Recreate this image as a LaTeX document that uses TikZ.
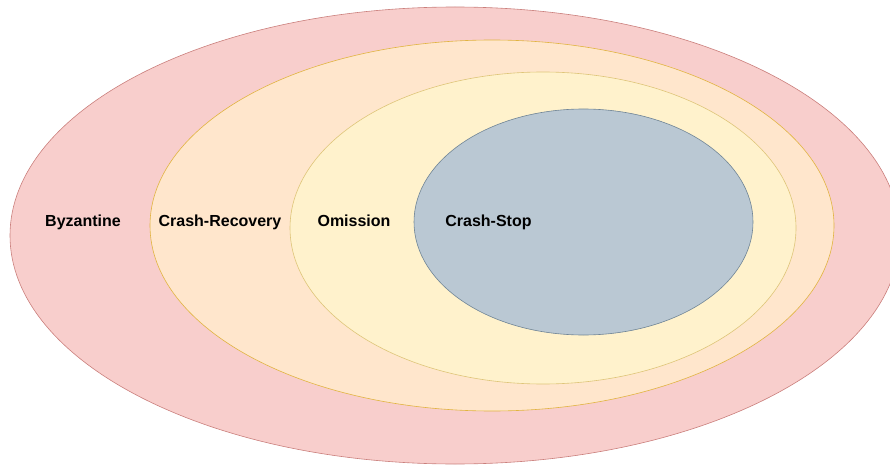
\documentclass[tikz,border=0pt]{standalone}
\usepackage{fontspec}
\setmainfont{Liberation Sans}
\usetikzlibrary{shapes.geometric}
\definecolor{byzfill}{HTML}{F8CECC}\definecolor{byzline}{HTML}{B85450}
\definecolor{crfill}{HTML}{FFE6CC}\definecolor{crline}{HTML}{D79B00}
\definecolor{omfill}{HTML}{FFF2CC}\definecolor{omline}{HTML}{D6B656}
\definecolor{csfill}{HTML}{BAC8D3}\definecolor{csline}{HTML}{23445D}
\tikzset{
  region/.style={ellipse, inner sep=0pt, line width=0.6pt},
  label/.style={font=\fontsize{16}{19}\selectfont\bfseries, text=black, inner sep=0pt, anchor=base}
}
\begin{document}
\begin{tikzpicture}[x=1pt,y=-1pt]
  \useasboundingbox (0,0) rectangle (890,465);
  \clip (0,0) rectangle (890,465);
  % nested failure-model regions, outermost first
  \node[region, draw=byzline!75, fill=byzfill, minimum width=890pt, minimum height=457pt] (byz) at (455,235.5) {};
  \node[region, draw=crline!75, fill=crfill, minimum width=684pt, minimum height=371pt] (cr) at (492,225.5) {};
  \node[region, draw=omline!80, fill=omfill, minimum width=506pt, minimum height=312pt] (om) at (543,228) {};
  \node[region, draw=csline!65, fill=csfill, minimum width=339pt, minimum height=226pt] (cs) at (583.5,222) {};
  % region labels, sharing one baseline
  \node[label] (lbyz) at (83,226.5) {Byzantine};
  \node[label] (lcr) at (220,226.5) {Crash-Recovery};
  \node[label] (lom) at (354,226.5) {Omission};
  \node[label] (lcs) at (488.5,226.5) {Crash-Stop};
\end{tikzpicture}
\end{document}
